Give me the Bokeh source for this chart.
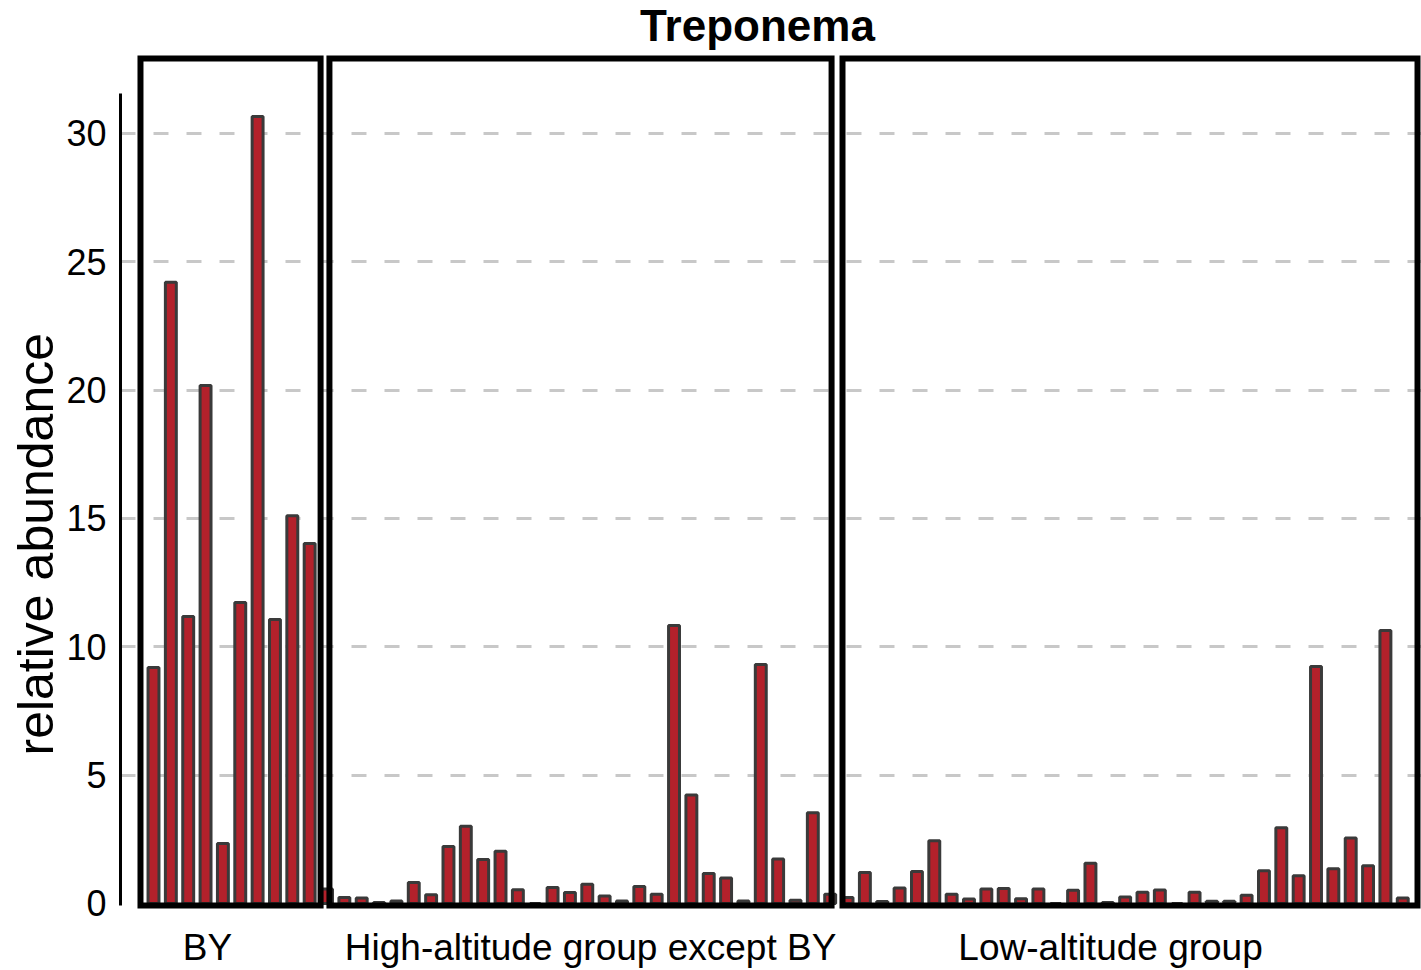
from bokeh.plotting import figure
from bokeh.models import Range1d, FixedTicker, Label, Title, ColumnDataSource
from bokeh.embed import file_html
from bokeh.resources import INLINE

# ---------------- data ----------------
title_text = "Treponema"
y_label = "relative abundance"
group_names = ["BY", "High-altitude group except BY", "Low-altitude group"]

by_values = [9.19, 24.2, 11.18, 20.18, 2.34, 11.73, 30.66, 11.06, 15.11, 14.02]
high_values = [0.56, 0.23, 0.21, 0.04, 0.1, 0.82, 0.34, 2.22, 3.01, 1.71,
               2.03, 0.53, 0.0, 0.62, 0.43, 0.75, 0.29, 0.1, 0.66, 0.36,
               10.83, 4.23, 1.17, 0.99, 0.1, 9.31, 1.73, 0.13, 3.53, 0.36]
low_values = [0.23, 1.21, 0.08, 0.6, 1.25, 2.44, 0.36, 0.17, 0.56, 0.58,
              0.18, 0.56, 0.0, 0.51, 1.57, 0.04, 0.25, 0.44, 0.52, 0.0,
              0.44, 0.09, 0.09, 0.32, 1.27, 2.95, 1.08, 9.23, 1.35, 2.55,
              1.47, 10.63, 0.21]
y_ticks = [0, 5, 10, 15, 20, 25, 30]

# ---------------- layout constants ----------------
group_label_pos = [3.11, 25.19, 55.16]
box_left = [-0.75, 10.14, 39.71]
box_right = [9.63, 39.08, 72.85]
box_bottom, box_top = -0.08, 32.92
x_start, x_end = -1.902, 73.08
y_start, y_end = -0.43, 35.18

values = by_values + high_values + low_values
src = ColumnDataSource(dict(x=list(range(len(values))), top=values))

p = figure(width=1421, height=970, output_backend="svg", toolbar_location=None,
           x_range=Range1d(x_start, x_end), y_range=Range1d(y_start, y_end),
           min_border_left=120, min_border_right=0, min_border_top=0,
           min_border_bottom=56)
p.outline_line_color = None

p.vbar(x="x", top="top", bottom=0, width=0.63, source=src,
       fill_color="#b3212b", line_color="#3a3a3a", line_width=3)

p.quad(left=box_left, right=box_right, bottom=box_bottom, top=box_top,
       fill_alpha=0, line_color="black", line_width=6, line_join="miter")

# y axis
p.yaxis.ticker = FixedTicker(ticks=y_ticks)
p.yaxis.bounds = (-0.08, 31.55)
p.yaxis.axis_line_width = 3
p.yaxis.axis_line_color = "black"
p.yaxis.major_tick_line_color = None
p.yaxis.minor_tick_line_color = None
p.yaxis.major_label_text_font = "Liberation Sans"
p.yaxis.major_label_text_font_size = "36px"
p.yaxis.major_label_text_color = "black"
p.yaxis.major_label_standoff = 8

# y axis title as a left-side title, placed low like the reference
p.add_layout(Title(text=y_label, align="left", offset=159, standoff=0,
                   text_font="Liberation Sans", text_font_size="50px",
                   text_font_style="normal", text_color="black"), "left")

# grid
p.xgrid.grid_line_color = None
p.ygrid.ticker = FixedTicker(ticks=y_ticks[1:])
p.ygrid.grid_line_color = "#c8c8c8"
p.ygrid.grid_line_width = 3
p.ygrid.grid_line_dash = "15 18"

# x axis with group labels
p.xaxis.ticker = FixedTicker(ticks=group_label_pos)
p.xaxis.major_label_overrides = {pos: name for pos, name in zip(group_label_pos, group_names)}
p.xaxis.axis_line_color = None
p.xaxis.major_tick_line_color = None
p.xaxis.minor_tick_line_color = None
p.xaxis.major_label_text_font = "Liberation Sans"
p.xaxis.major_label_text_font_size = "37px"
p.xaxis.major_label_text_color = "black"
p.xaxis.major_label_standoff = 6

# title
p.add_layout(Label(x=34.81, y=34.2, text=title_text, text_align="center",
                   text_baseline="middle",
                   text_font="Liberation Sans",
                   text_font_style="bold", text_font_size="44px",
                   text_color="black"))

open("out.html", "w").write(file_html(p, INLINE))
